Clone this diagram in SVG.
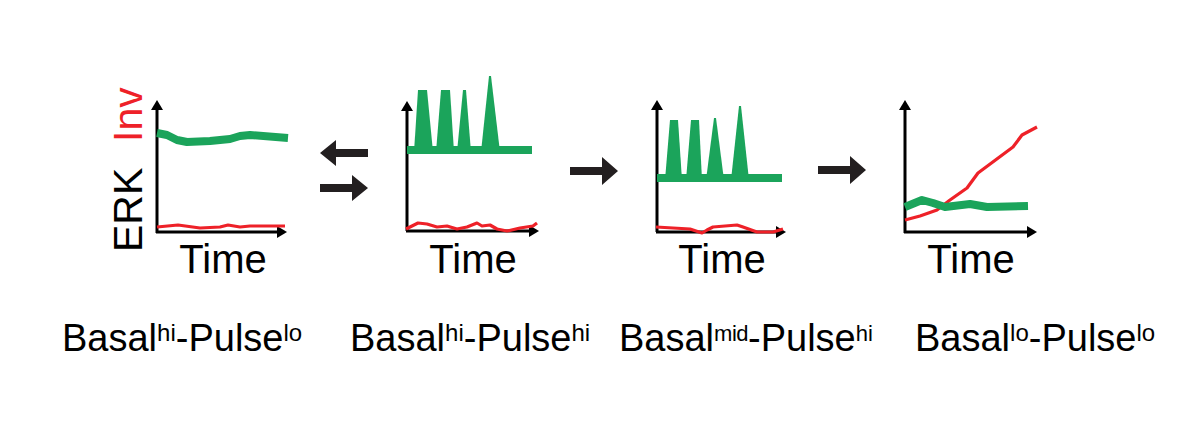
<svg xmlns="http://www.w3.org/2000/svg" width="1200" height="434" viewBox="0 0 1200 434">
<style>
.ax{fill:none;stroke:#000;stroke-width:3;marker-end:url(#ah)}
.g{fill:none;stroke:#1ba45b;stroke-width:8;stroke-linejoin:round;stroke-linecap:butt}
.gp{fill:#1ba45b}
.r{fill:none;stroke:#ee2128;stroke-width:3.2;stroke-linejoin:round}
.t{font-family:"Liberation Sans",Arial,sans-serif;fill:#000}
.arr{fill:#231f20}
</style>
<defs>
<marker id="ah" markerUnits="userSpaceOnUse" viewBox="0 0 10 12" refX="0" refY="6" markerWidth="10" markerHeight="12" orient="auto">
<path d="M0,0 L10,6 L0,12 Z" fill="#000"/>
</marker>
</defs>
<rect width="1200" height="434" fill="#fff"/>

<g id="panel1">
<text class="t" font-size="41" transform="translate(142,252) rotate(-90)">ERK</text>
<text class="t" font-size="41" transform="translate(142,142) rotate(-90)" style="fill:#ee2128">Inv</text>
<path class="ax" d="M157,233 V110"/>
<path class="ax" d="M156,232 H277"/>
<polyline class="g" points="157,133 167,135 177,140 187,142 210,141 230,139 240,136 250,135 288,138"/>
<polyline class="r" points="157,227 178,225 200,228 220,227 228,225 240,227 250,226 285,226"/>
<text class="t" font-size="40" x="223" y="273" text-anchor="middle">Time</text>
<text class="t" font-size="38" x="62" y="351">Basal<tspan font-size="24" dy="-10">hi</tspan><tspan dy="10">-Pulse</tspan><tspan font-size="24" dy="-10">lo</tspan></text>
</g>

<g id="panel2">
<path class="ax" d="M407,231 V111"/>
<path class="ax" d="M406,231 H529"/>
<line class="g" x1="407" y1="150" x2="532" y2="150"/>
<polygon class="gp" points="414,152 418,90 427,90 433,152"/>
<polygon class="gp" points="436,152 441,90 450,90 454,152"/>
<polygon class="gp" points="457,152 463,90 466,90 471,152"/>
<polygon class="gp" points="481,152 489,76 491,76 500,152"/>
<polyline class="r" points="406,229 418,223 427,224 437,227 447,226 457,229 467,227 477,223 482,226 490,225 497,229 507,231 520,228 533,226 537,223"/>
<text class="t" font-size="40" x="473" y="273" text-anchor="middle">Time</text>
<text class="t" font-size="38" x="350" y="351">Basal<tspan font-size="24" dy="-10">hi</tspan><tspan dy="10">-Pulse</tspan><tspan font-size="24" dy="-10">hi</tspan></text>
</g>

<g id="panel3">
<path class="ax" d="M657,232 V110"/>
<path class="ax" d="M656,232 H776"/>
<line class="g" x1="657" y1="178" x2="782" y2="178"/>
<polygon class="gp" points="665,180 670,120 678,120 682,180"/>
<polygon class="gp" points="686,180 691,120 699,120 702,180"/>
<polygon class="gp" points="706,180 714,118 716,118 724,180"/>
<polygon class="gp" points="731,180 739,106 741,106 749,180"/>
<polyline class="r" points="656,227 690,229 702,233 707,230 713,227 737,225 743,227 757,232 773,232 783,229"/>
<text class="t" font-size="40" x="722" y="273" text-anchor="middle">Time</text>
<text class="t" font-size="38" x="619" y="351">Basal<tspan font-size="22" dy="-10" letter-spacing="-0.5">mid</tspan><tspan dy="10">-Pulse</tspan><tspan font-size="22" dy="-10">hi</tspan></text>
</g>

<g id="panel4">
<path class="ax" d="M905,233 V110"/>
<path class="ax" d="M904,232 H1027"/>
<polyline class="r" points="905,220 920,216 937,210 950,200 967,188 978,173 1013,147 1022,135 1037,127"/>
<polyline class="g" points="905,207 922,200 933,203 945,207 970,204 987,207 1028,206"/>
<text class="t" font-size="40" x="971" y="273" text-anchor="middle">Time</text>
<text class="t" font-size="38" x="915" y="351">Basal<tspan font-size="24" dy="-10">lo</tspan><tspan dy="10">-Pulse</tspan><tspan font-size="24" dy="-10">lo</tspan></text>
</g>

<g id="connectors">
<polygon class="arr" points="320,153 336,140 336,149 368,149 368,157 336,157 336,166"/>
<polygon class="arr" points="368,188 352,175 352,184 320,184 320,192 352,192 352,201"/>
<polygon class="arr" points="618,171 602,157 602,167 570,167 570,175 602,175 602,185"/>
<polygon class="arr" points="866,170 850,156 850,166 818,166 818,174 850,174 850,184"/>
</g>
</svg>
